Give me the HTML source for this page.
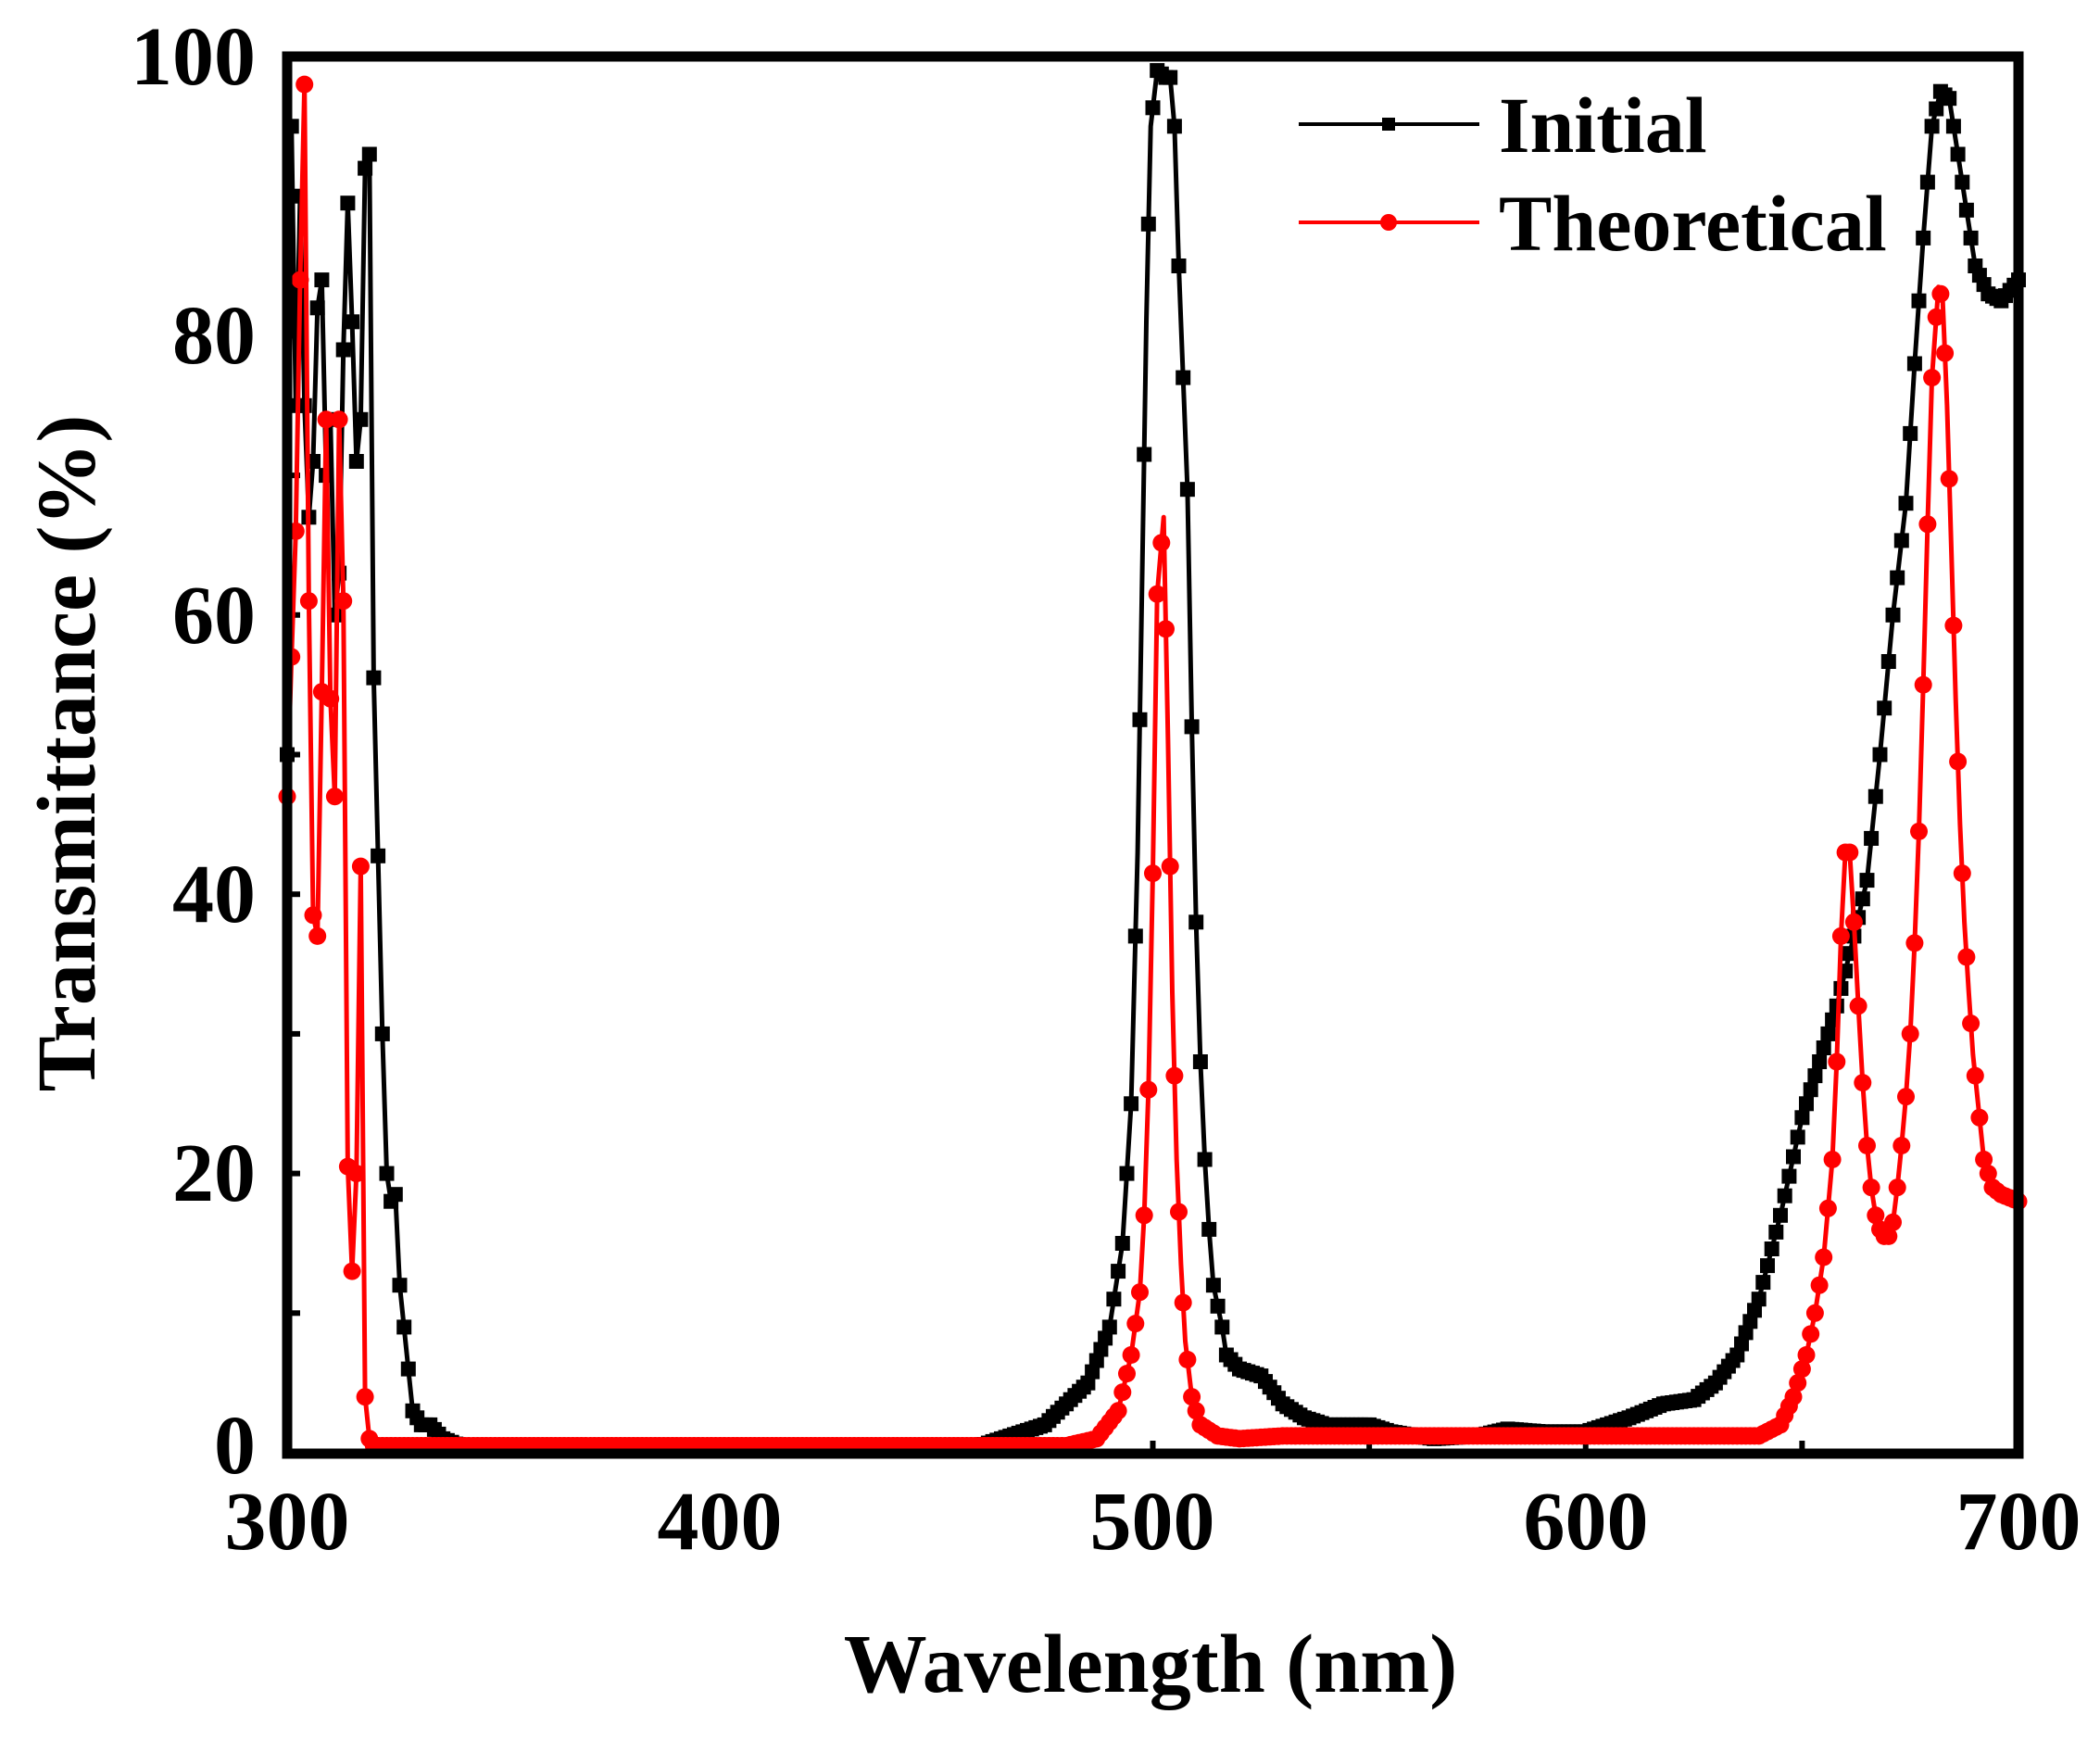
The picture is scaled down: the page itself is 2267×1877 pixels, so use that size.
<!DOCTYPE html>
<html><head><meta charset="utf-8"><style>
html,body{margin:0;padding:0;background:#fff}
svg{display:block}
text{font-family:"Liberation Serif",serif;font-weight:bold;fill:#000}
</style></head><body>
<svg id="s" width="2267" height="1877" xmlns="http://www.w3.org/2000/svg">
<rect width="2267" height="1877" fill="#fff"/>
<g id="ticks"></g>
<g id="data"></g>
<rect x="310" y="61" width="1869" height="1508" fill="none" stroke="#000" stroke-width="11"/>
<g font-size="90" text-anchor="end">
<text x="276" y="91">100</text>
<text x="276" y="392">80</text>
<text x="276" y="694">60</text>
<text x="276" y="995">40</text>
<text x="276" y="1296">20</text>
<text x="276" y="1590">0</text>
</g>
<g font-size="90" text-anchor="middle">
<text x="310" y="1672">300</text>
<text x="777" y="1672">400</text>
<text x="1244" y="1672">500</text>
<text x="1712" y="1672">600</text>
<text x="2179" y="1672">700</text>
</g>
<text x="1242" y="1826" font-size="90" text-anchor="middle">Wavelength (nm)</text>
<text transform="translate(102,813) rotate(-90)" font-size="90" text-anchor="middle">Transmittance (%)</text>
<line x1="1402" y1="134" x2="1597" y2="134" stroke="#000" stroke-width="4"/>
<rect x="1492" y="127" width="14" height="14" fill="#000"/>
<text x="1618" y="164" font-size="86">Initial</text>
<line x1="1402" y1="240" x2="1597" y2="240" stroke="#f00" stroke-width="4"/>
<circle cx="1499" cy="240" r="9" fill="#f00"/>
<text x="1618" y="270" font-size="86">Theoretical</text>
</svg>
<script>
var X=function(w){return 310+(w-300)*4.6725;},Y=function(t){return 1568-t*15.07;};
var blk=[[300,50],[301,95],[302,75],[303,90],[304,75],[305,67],[306,71],[307,82],[308,84],[309,70],[310,74],[311,60],[312,63],[313,79],[314,89.5],[315,81],[316,71],[317,74],[318,92],[319,93],[320,55.5],[322,30],[323,20],[324,18],[325,18.5],[326,12],[328,6],[329,3],[331,2],[333,2],[336,1],[340,0.5],[460,0.5],[465,1],[475,2],[485,5],[490,9],[493,15],[495,25],[496.5,43],[497.5,62],[498.5,81],[499.5,95],[501,99],[503,98.5],[504,98.5],[505,95],[506,85],[508,69],[509,52],[510,38],[511,28],[512,21],[513,16],[514,12],[516,9],[517,7],[520,6],[525,5.5],[530,3.5],[535,2.5],[540,2],[550,2],[555,1.5],[565,1],[575,1.2],[582,1.7],[590,1.5],[600,1.5],[610,2.5],[618,3.5],[625,3.8],[630,5],[635,7],[640,11],[645,17],[650,24],[655,29],[658,32],[662,37],[665,41],[668,50],[671,60],[674,68],[676,78],[678,87],[680,95],[682,97.5],[684,97],[686,93],[688,89],[690,85],[693,83],[696,82.5],[700,84]];
var red=[[300,47],[301,57],[302,66],[303,84],[304,98],[305,61],[306,38.5],[307,37],[308,54.5],[309,74],[310,54],[311,47],[312,74],[313,61],[314,20.5],[315,13],[316,20],[317,42],[318,4],[319,1],[320,0.5],[480,0.5],[487,1],[492,3],[495,7],[497,11.5],[498,17],[499,26],[500,41.5],[501,61.5],[502.5,67],[503.5,51],[504.5,33],[505.5,21],[506.5,13.5],[507.5,8],[509,4],[511,2],[515,1.2],[520,1],[530,1.2],[640,1.2],[645,2],[648,4],[651,7],[653,10],[655,14],[657,21],[658,28],[659,37],[660,43],[661,43],[662,38],[663,32],[664,26.5],[665,22],[666,19],[667,17],[668,16],[669,15.5],[670,15.5],[671,16.5],[672,19],[673,22],[674,25.5],[675,30],[676,36.5],[677,44.5],[678,55],[679,66.5],[680,77],[681.5,83.5],[682.5,82.5],[683.5,75],[684.5,64.5],[685.5,54],[686.5,45],[687.5,38],[688.5,33],[689.5,28.5],[690.5,25.5],[692,21],[694,19],[696,18.5],[700,18]];
function interp(d,w){for(var i=0;i<d.length-1;i++){if(w>=d[i][0]&&w<=d[i+1][0]){var f=(w-d[i][0])/(d[i+1][0]-d[i][0]);return d[i][1]+f*(d[i+1][1]-d[i][1]);}}return d[d.length-1][1];}
var h='';
function series(d,col,mk){var p='';d.forEach(function(q,i){p+=(i?'L':'M')+X(q[0]).toFixed(1)+' '+Y(q[1]).toFixed(1);});
h+='<path d="'+p+'" fill="none" stroke="'+col+'" stroke-width="5" stroke-linejoin="round"/>';
for(var w=300;w<=700;w+=1){var v=interp(d,w);var x=X(w),y=Y(v);
if(mk=='s')h+='<rect x="'+(x-8).toFixed(1)+'" y="'+(y-8).toFixed(1)+'" width="16" height="16" fill="#000"/>';
else h+='<circle cx="'+x.toFixed(1)+'" cy="'+y.toFixed(1)+'" r="9.5" fill="#f00"/>';}}
series(blk,'#000','s');series(red,'#f00','c');
document.getElementById('data').innerHTML=h;
var t='';for(var w=350;w<700;w+=50){t+='<line x1="'+X(w)+'" y1="1569" x2="'+X(w)+'" y2="1555" stroke="#000" stroke-width="6"/>';}
for(var v=10;v<100;v+=10){t+='<line x1="310" y1="'+Y(v)+'" x2="324" y2="'+Y(v)+'" stroke="#000" stroke-width="6"/>';}
document.getElementById('ticks').innerHTML=t;
</script>
</body></html>
